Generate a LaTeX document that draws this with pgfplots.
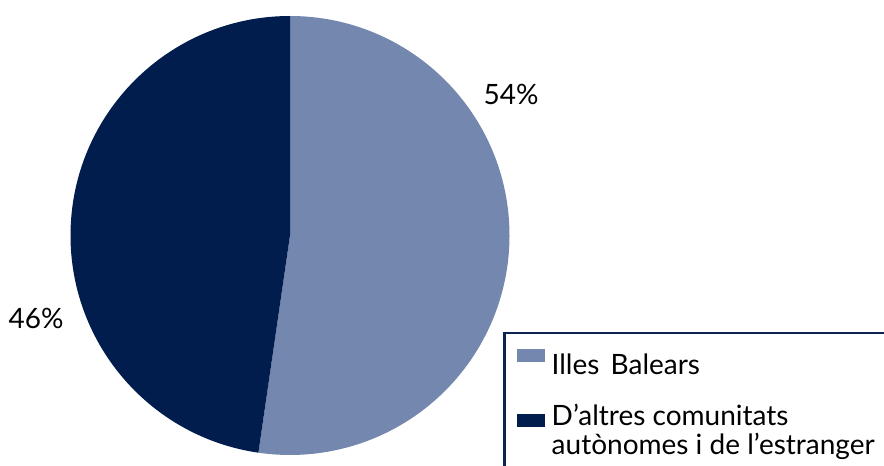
\documentclass[border=0pt]{standalone}
\usepackage{pgfplots}
\pgfplotsset{compat=1.18}
\usepackage{pgfplotstable}
\usepackage{fontspec}
\setmainfont{Lato}
\definecolor{lightslice}{HTML}{7487AE}
\definecolor{darkslice}{HTML}{001D4E}
\definecolor{legborder}{HTML}{0B2452}

\pgfplotstableread{
share label
52.3 54
47.7 46
}\pietable

\begin{document}
\begin{tikzpicture}
\pgfplotstablegetelem{0}{share}\of\pietable \let\shareA\pgfplotsretval
\pgfplotstablegetelem{0}{label}\of\pietable \let\labA\pgfplotsretval
\pgfplotstablegetelem{1}{label}\of\pietable \let\labB\pgfplotsretval
\pgfmathsetmacro{\angA}{90-3.6*\shareA}
\pgfmathsetmacro{\angB}{\angA+360}
\begin{axis}[at={(0,0)}, anchor=south west, scale only axis,
  width=884pt, height=466pt, xmin=0, xmax=884, ymin=0, ymax=466,
  hide axis, clip=false,
  legend cell align=left,
  legend style={at={(0.5695,0.2876)}, anchor=north west, draw=legborder,
    line width=2.2pt, inner xsep=12pt, inner ysep=16pt,
    font=\fontsize{28}{29}\selectfont, row sep=24pt,
    nodes={align=left}}]
\fill[lightslice] (axis cs:290,230.5) -- (axis cs:290,450) arc[start angle=90, end angle=\angA, radius=219.5pt] -- cycle;
\fill[darkslice] (axis cs:290,230.5) -- (axis cs:290,450) arc[start angle=90, end angle=\angB, radius=219.5pt] -- cycle;
\node[font=\fontsize{28}{34}\selectfont, anchor=base, text=black] at (axis cs:511,361) {\labA\%};
\node[font=\fontsize{28}{34}\selectfont, anchor=base, text=black] at (axis cs:36,137) {\labB\%};
\addlegendimage{legend image code/.code={\fill[lightslice] (0pt,4pt) rectangle (26pt,15pt); \path (31pt,0pt);}}
\addlegendentry{Illes\hspace{0.4em}Balears}
\addlegendimage{legend image code/.code={\fill[darkslice] (0pt,4pt) rectangle (26pt,15pt); \path (31pt,0pt);}}
\addlegendentry{D’altres comunitats\\autònomes i de l’estranger}
\end{axis}
\pgfresetboundingbox
\useasboundingbox (0,0) rectangle (884pt,466pt);
\end{tikzpicture}
\end{document}
